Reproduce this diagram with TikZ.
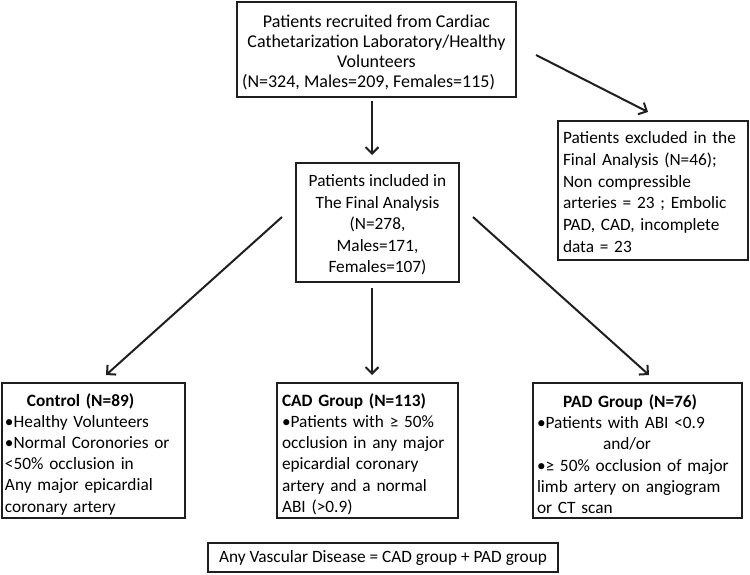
\documentclass[tikz,border=0pt]{standalone}
\usepackage{fontspec}
\setmainfont{Carlito}
\usetikzlibrary{arrows.meta,calc}
\begin{document}
\begin{tikzpicture}[x=1pt,y=-1pt,
  box/.style={draw=black!88, line width=2pt, inner sep=0pt, fill=white},
  txt/.style={font=\fontsize{17.3}{21.2}\selectfont},
  arr/.style={line width=2pt, draw=black!88, -{Straight Barb[length=6.5pt,width=13pt,line width=2pt]}}]
\useasboundingbox (0,0) rectangle (750,575);

\node[box, minimum width=279pt, minimum height=95pt, align=center,
      font=\fontsize{18}{20}\selectfont] (top) at (376.5,49.5)
  {\rule{0pt}{19pt}Patients recruited from Cardiac\\Cathetarization Laboratory/Healthy\hspace*{10pt}\\Volunteers\\(N=324, Males=209, Females=115)\hspace*{16pt}};

\node[box, minimum width=190pt, minimum height=139pt, text width=180pt, align=left,
      font=\fontsize{17.3}{21.7}\selectfont] (excl) at (653,190.5)
  {\rule{0pt}{15pt}Patients excluded in the\\Final Analysis (N=46);\\Non compressible\\arteries = 23 ; Embolic\\PAD, CAD, incomplete\\data = 23};

\node[box, minimum width=163pt, minimum height=119pt, align=center,
      font=\fontsize{17.3}{21.5}\selectfont] (mid) at (377.5,222.5)
  {\rule{0pt}{17pt}Patients included in\\The Final Analysis\\(N=278,\\Males=171,\\Females=107)};

\node[box, txt, minimum width=183pt, minimum height=135pt, text width=177pt, align=left] (ctrl) at (93.5,450.5)
  {\rule{0pt}{20pt}\hspace*{22pt}\textbf{Control (N=89)}\\
   •Healthy Volunteers\\
   •Normal Coronories or\\
   <50\% occlusion in\\
   Any major epicardial\\
   coronary artery};

\node[box, txt, minimum width=181pt, minimum height=135pt, text width=171pt, align=left] (cad) at (367.5,450.5)
  {\rule{0pt}{20pt}\textbf{CAD Group (N=113)}\\
   •Patients with ≥ 50\%\\
   occlusion in any major\\
   epicardial coronary\\
   artery and a normal\\
   ABI (>0.9)};

\node[box, txt, minimum width=209pt, minimum height=135pt, text width=201pt, align=left] (pad) at (637.5,450.5)
  {\rule{0pt}{20pt}\hspace*{26pt}\textbf{PAD Group (N=76)}\\
   •Patients with ABI <0.9\\
   \hspace*{66pt}and/or\\
   •≥ 50\% occlusion of major\\
   limb artery on angiogram\\
   or CT scan};

\node[box, txt, minimum width=350pt, minimum height=29pt] (any) at (383,557.5)
  {Any Vascular Disease = CAD group + PAD group};

\draw[arr] ($(top.south)+(-4.5,3)$) -- ($(mid.north)+(-5.5,-7)$);
\draw[arr] ($(top.east)+(19,5.5)$) -- ($(excl.north)+(-5,-8)$);
\draw[arr] ($(mid.west)+(-13,-5.5)$) -- ($(ctrl.north)+(12.5,-7)$);
\draw[arr] ($(mid.south)+(-5.5,5)$) -- ($(cad.north)+(4.5,-7)$);
\draw[arr] ($(mid.east)+(13,-5.5)$) -- ($(pad.north)+(11.5,-7)$);
\end{tikzpicture}
\end{document}
